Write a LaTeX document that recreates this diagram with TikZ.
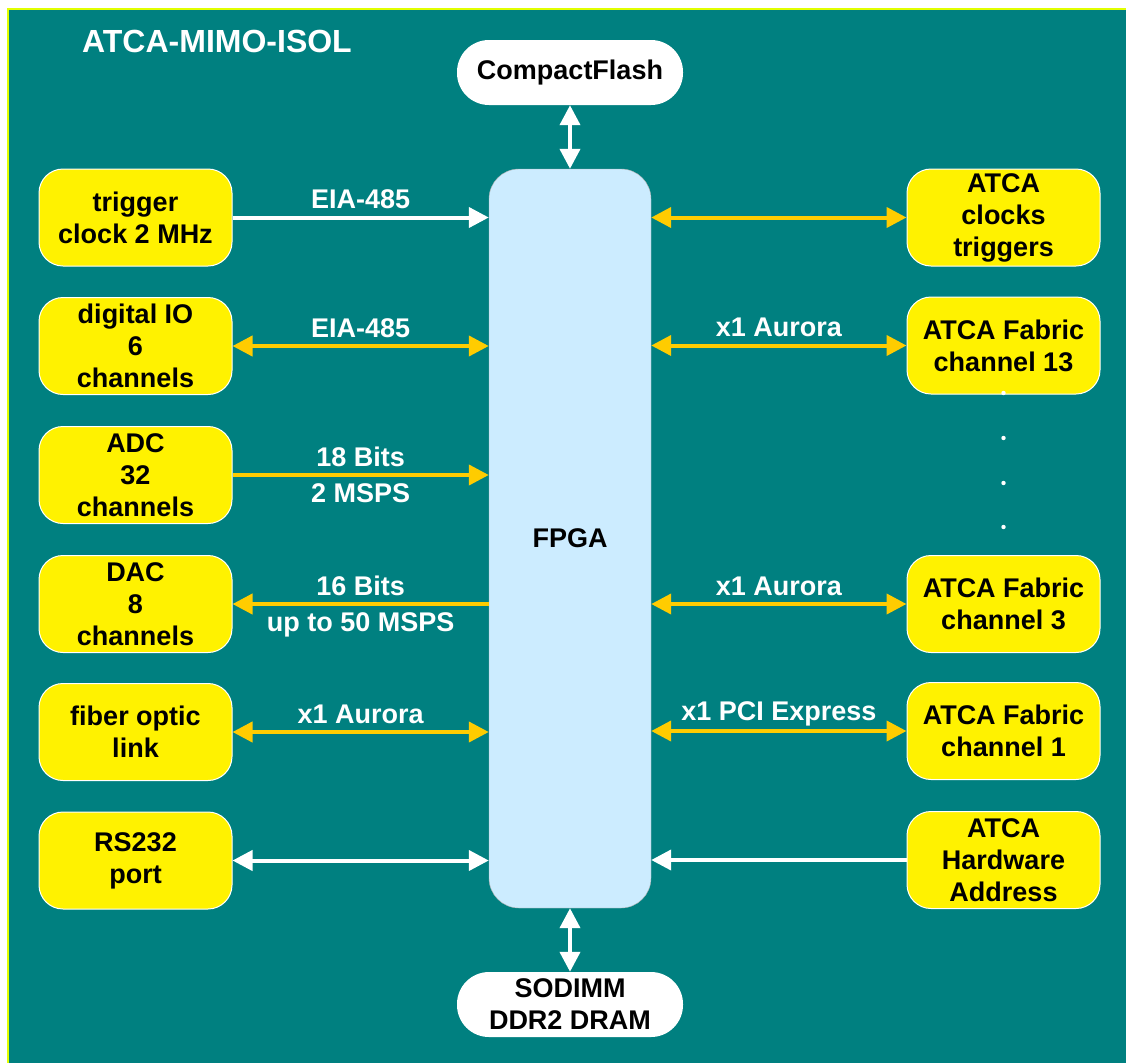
\documentclass[tikz,border=0pt]{standalone}
\usepackage{fontspec}
\setmainfont{Liberation Sans}
\usetikzlibrary{arrows.meta}
\definecolor{bgteal}{RGB}{0,128,128}
\definecolor{wireyellow}{RGB}{255,204,0}
\definecolor{fpgablue}{RGB}{204,236,255}
\definecolor{edgelime}{RGB}{225,255,0}
\tikzset{
  txt/.style={font=\bfseries\fontsize{27}{32}\selectfont},
  ybox/.style={txt,fill=yellow,draw=white,line width=1pt,rounded corners=24pt,
    minimum width=193pt,minimum height=97pt,align=center,inner sep=0pt},
  wbox/.style={txt,fill=white,rounded corners=32pt,minimum width=226pt,
    minimum height=65pt,align=center,inner sep=0pt},
  fpgabox/.style={txt,fill=fpgablue,draw=gray!60,rounded corners=30pt,
    minimum width=162pt,minimum height=739pt},
  wwire/.style={line width=4pt,white},
  ywire/.style={line width=4pt,wireyellow},
  sgl/.style={-{Triangle[length=20pt,width=20pt]}},
  dbl/.style={{Triangle[length=20pt,width=20pt]}-{Triangle[length=20pt,width=20pt]}},
  lab/.style={txt,text=white,inner sep=0pt,text depth=0pt}
}

\begin{document}
\begin{tikzpicture}[x=1pt,y=-1pt]
    \useasboundingbox (0,0) rectangle (1126,1063);
    \fill[bgteal] (8,9) rectangle (1126,1063);
    \draw[edgelime,line width=2pt] (8,1063) -- (8,9) -- (1126,9);
    \node[lab,font=\bfseries\fontsize{32}{38}\selectfont,anchor=base west] (title) at (82,52) {ATCA-MIMO-ISOL};
    \node[fpgabox] (fpga) at (570,538.5) {FPGA};
    \node[wbox] (cf) at (570,72.5) {CompactFlash};
    \node[wbox] (ram) at (570,1004.5) {SODIMM\\DDR2 DRAM};
    \node[ybox] (trig) at (135.5,217.5) {trigger\\clock 2 MHz};
    \node[ybox] (dio) at (135.5,346) {digital IO\\6\\channels};
    \node[ybox] (adc) at (135.5,475) {ADC\\32\\channels};
    \node[ybox] (dac) at (135.5,604) {DAC\\8\\channels};
    \node[ybox] (fib) at (135.5,732) {fiber optic\\link};
    \node[ybox] (rs) at (135.5,860.5) {RS232\\port};
    \node[ybox] (clk) at (1003.5,217.5) {ATCA\\clocks\\triggers};
    \node[ybox] (fab13) at (1003.5,345.5) {ATCA Fabric\\channel 13};
    \node[ybox] (fab3) at (1003.5,604) {ATCA Fabric\\channel 3};
    \node[ybox] (fab1) at (1003.5,731) {ATCA Fabric\\channel 1};
    \node[ybox] (hwa) at (1003.5,860) {ATCA\\Hardware\\Address};
    \foreach \y in {393,438,483,527}
      \fill[white] (1003.5,\y) circle (2.2pt);
    \draw[wwire,dbl] (cf) -- (fpga);
    \draw[wwire,dbl] (ram) -- (fpga);
    \draw[wwire,sgl] (trig.east) -- (trig.east -| fpga.west)
      node[lab,midway,above=7pt] {EIA-485};
    \draw[ywire,dbl] (dio.east) -- (dio.east -| fpga.west)
      node[lab,midway,above=7pt] {EIA-485};
    \draw[ywire,sgl] (adc.east) -- (adc.east -| fpga.west)
      node[lab,midway,above=7pt] {18 Bits} node[lab,midway,below=7pt] {2 MSPS};
    \draw[ywire,sgl] (dac.east -| fpga.west) -- (dac.east)
      node[lab,midway,above=7pt] {16 Bits} node[lab,midway,below=7pt] {up to 50 MSPS};
    \draw[ywire,dbl] (fib.east) -- (fib.east -| fpga.west)
      node[lab,midway,above=7pt] {x1 Aurora};
    \draw[wwire,dbl] (rs.east) -- (rs.east -| fpga.west);
    \draw[ywire,dbl] (fpga.east |- clk.west) -- (clk.west);
    \draw[ywire,dbl] (fpga.east |- fab13.west) -- (fab13.west)
      node[lab,midway,above=7pt] {x1 Aurora};
    \draw[ywire,dbl] (fpga.east |- fab3.west) -- (fab3.west)
      node[lab,midway,above=7pt] {x1 Aurora};
    \draw[ywire,dbl] (fpga.east |- fab1.west) -- (fab1.west)
      node[lab,midway,above=9pt] {x1 PCI Express};
    \draw[wwire,sgl] (hwa.west) -- (hwa.west -| fpga.east);
\end{tikzpicture}
\end{document}
